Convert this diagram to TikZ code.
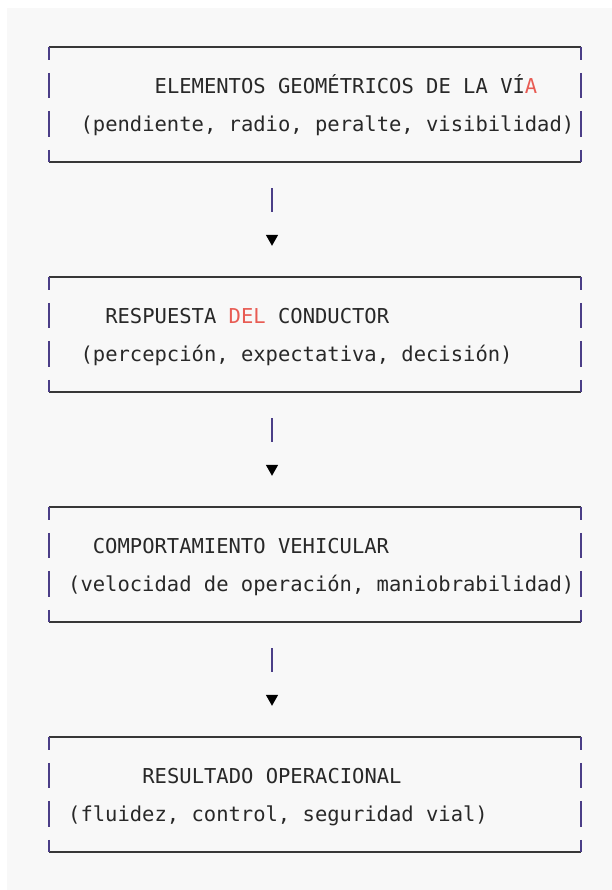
\documentclass[tikz,border=0pt]{standalone}
\usepackage{fontspec}
\setmonofont{DejaVu Sans Mono}
\usetikzlibrary{arrows.meta}

\definecolor{fondo}{RGB}{248,248,248}
\definecolor{tinta}{RGB}{40,40,40}
\definecolor{borde}{RGB}{55,55,55}
\definecolor{barra}{RGB}{75,62,135}
\definecolor{rojo}{RGB}{232,92,84}

\begin{document}
\begin{tikzpicture}[x=1bp,y=-1bp,
    font=\ttfamily\fontsize{20.5bp}{24bp}\selectfont, text=tinta,
    caja/.style={minimum width=532bp, minimum height=115bp, inner sep=0pt},
    texto/.style={anchor=base west, inner sep=0pt},
    lado/.style={barra, line width=1.5bp, dash pattern=on 13bp off 13bp on 25bp off 13bp on 26bp off 13bp on 12bp off 50bp},
    flecha/.style={barra, line width=1.5bp, dash pattern=on 24bp off 80bp, shorten <=26bp, shorten >=31bp,
        -{Triangle[length=11bp,width=12bp,color=black]}}]
    \useasboundingbox (0,0) rectangle (612,890);

    % fondo
    \fill[white] (0,0) rectangle (640,920);
    \fill[fondo] (7,8) rectangle (640,920);

    % cajas de cada etapa
    \node[caja] (b1) at (315,104.5) {};
    \node[caja] (b2) at (315,334.5) {};
    \node[caja] (b3) at (315,564.5) {};
    \node[caja] (b4) at (315,794.5) {};

    \foreach \b in {b1,b2,b3,b4}{
        \draw[borde,line width=1.8bp] (\b.north west) -- (\b.north east);
        \draw[borde,line width=1.8bp] (\b.south west) -- (\b.south east);
        \draw[lado] (\b.north west) -- (\b.south west);
        \draw[lado] (\b.north east) -- (\b.south east);
    }

    \node[texto] (t1) at (154.5,93) {ELEMENTOS GEOMÉTRICOS DE LA VÍ\textcolor{rojo}{A}};
    \node[texto] (s1) at (80.4,131) {(pendiente, radio, peralte, visibilidad)};
    \node[texto] (t2) at (105.1,323) {RESPUESTA \textcolor{rojo}{DEL} CONDUCTOR};
    \node[texto] (s2) at (80.4,361) {(percepción, expectativa, decisión)};
    \node[texto] (t3) at (92.7,553) {COMPORTAMIENTO VEHICULAR};
    \node[texto] (s3) at (68,591) {(velocidad de operación, maniobrabilidad)};
    \node[texto] (t4) at (142.2,783) {RESULTADO OPERACIONAL};
    \node[texto] (s4) at (68,821) {(fluidez, control, seguridad vial)};

    % flechas entre etapas
    \coordinate (eje) at (272,0);
    \draw[flecha] (b1.south -| eje) -- (b2.north -| eje);
    \draw[flecha] (b2.south -| eje) -- (b3.north -| eje);
    \draw[flecha] (b3.south -| eje) -- (b4.north -| eje);
\end{tikzpicture}
\end{document}
